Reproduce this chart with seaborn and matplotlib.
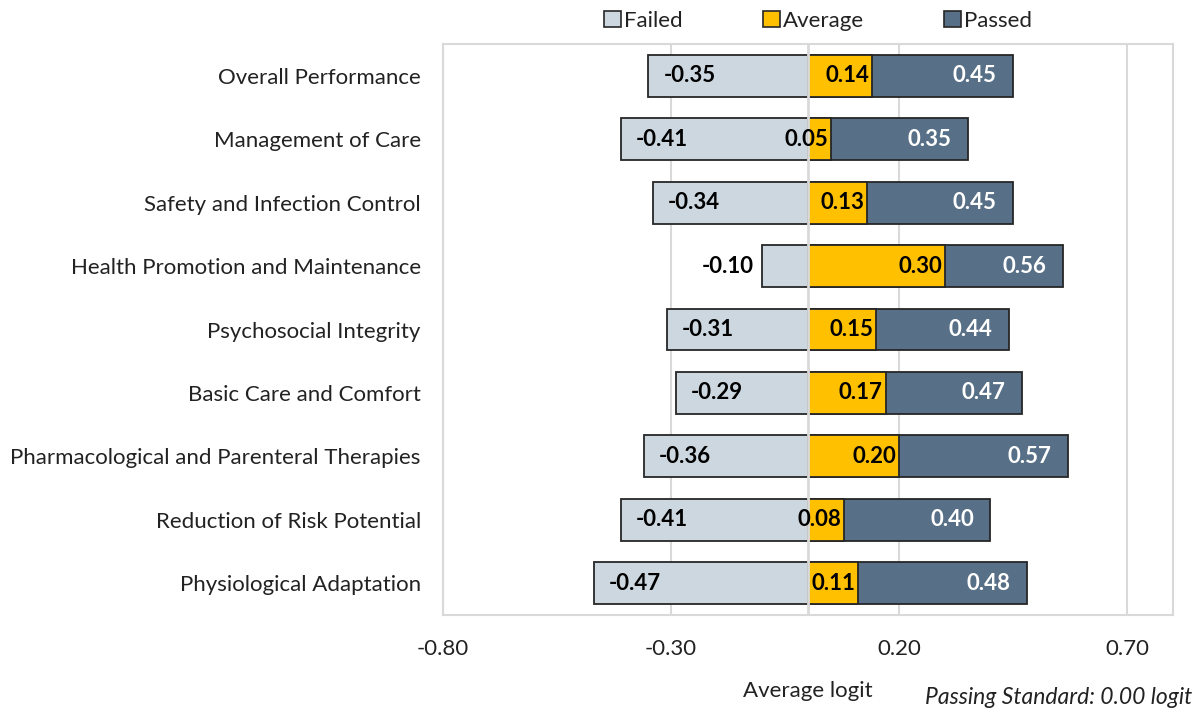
import matplotlib
matplotlib.use("Agg")
import matplotlib.pyplot as plt
from matplotlib.patches import Patch
import seaborn as sns
import pandas as pd

sns.set_theme(style="white")
plt.rcParams['font.family'] = ['Lato', 'DejaVu Sans']

categories = ["Overall Performance", "Management of Care", "Safety and Infection Control",
              "Health Promotion and Maintenance", "Psychosocial Integrity",
              "Basic Care and Comfort", "Pharmacological and Parenteral Therapies",
              "Reduction of Risk Potential", "Physiological Adaptation"]
failed = [-0.35, -0.41, -0.34, -0.10, -0.31, -0.29, -0.36, -0.41, -0.47]
average = [0.14, 0.05, 0.13, 0.30, 0.15, 0.17, 0.20, 0.08, 0.11]
passed = [0.45, 0.35, 0.45, 0.56, 0.44, 0.47, 0.57, 0.40, 0.48]
xticks = [-0.80, -0.30, 0.20, 0.70]

c_failed = "#CDD7DF"
c_avg = "#FFC000"
c_pass = "#587087"
edge = "#262626"
grid_c = "#D9D9D9"

df = pd.DataFrame({"cat": categories, "failed": failed, "average": average, "passed": passed})

fig = plt.figure(figsize=(11.98, 7.11), dpi=100)
ax = fig.add_axes([0.3698, 0.135, 0.6093, 0.803])

for v in xticks:
    ax.axvline(v, color=grid_c, lw=1.5, zorder=0)

bw = 0.66
sns.barplot(data=df, x="passed", y="cat", color=c_pass, width=bw, saturation=1,
            edgecolor=edge, linewidth=1.3, ax=ax, zorder=2)
sns.barplot(data=df, x="average", y="cat", color=c_avg, width=bw, saturation=1,
            edgecolor=edge, linewidth=1.3, ax=ax, zorder=3)
sns.barplot(data=df, x="failed", y="cat", color=c_failed, width=bw, saturation=1,
            edgecolor=edge, linewidth=1.3, ax=ax, zorder=3)
ax.axvline(0, color=grid_c, lw=2, zorder=4)

lab_kw = dict(fontsize=16, fontweight="bold", va="center", zorder=5)
for i in range(len(categories)):
    f, a, p = failed[i], average[i], passed[i]
    if abs(f) < 0.15:
        ax.annotate(f"{f:.2f}", (f, i), xytext=(-6, 0), textcoords="offset points",
                    ha="right", color="black", **lab_kw)
    else:
        ax.annotate(f"{f:.2f}", (f, i), xytext=(11, 0), textcoords="offset points",
                    ha="left", color="black", **lab_kw)
    ax.annotate(f"{a:.2f}", (a, i), xytext=(-2, 0), textcoords="offset points",
                ha="right", color="black", **lab_kw)
    ax.annotate(f"{p:.2f}", (p, i), xytext=(-12, 0), textcoords="offset points",
                ha="right", color="white", **lab_kw)

ax.set_xlim(-0.8, 0.8)
ax.set_ylim(len(categories) - 0.5, -0.5)
ax.set_xticks(xticks)
ax.set_xticklabels([f"{t:.2f}" for t in xticks], fontsize=16, color="#222222")
ax.tick_params(axis="x", length=0, pad=17)
ax.tick_params(axis="y", length=0, pad=16, labelsize=16, labelcolor="#222222")
ax.set_ylabel("")
ax.set_xlabel("Average logit", fontsize=16, color="#222222", labelpad=16)
for s in ax.spines.values():
    s.set_color(grid_c)
    s.set_linewidth(1.5)

handles = [Patch(facecolor=c, edgecolor=edge, linewidth=1.2) for c in (c_failed, c_avg, c_pass)]
fig.legend(handles, ["Failed", "Average", "Passed"], loc="center", bbox_to_anchor=(0.683, 0.971),
           ncol=3, frameon=False, fontsize=16, handlelength=0.75, handleheight=0.75,
           handletextpad=0.15, columnspacing=3.6, labelcolor="#222222")

fig.text(0.995, 0.004, "Passing Standard: 0.00 logit", ha="right", va="bottom",
         fontsize=16.5, style="italic", color="#222222")

fig.savefig("out.png", dpi=100)
